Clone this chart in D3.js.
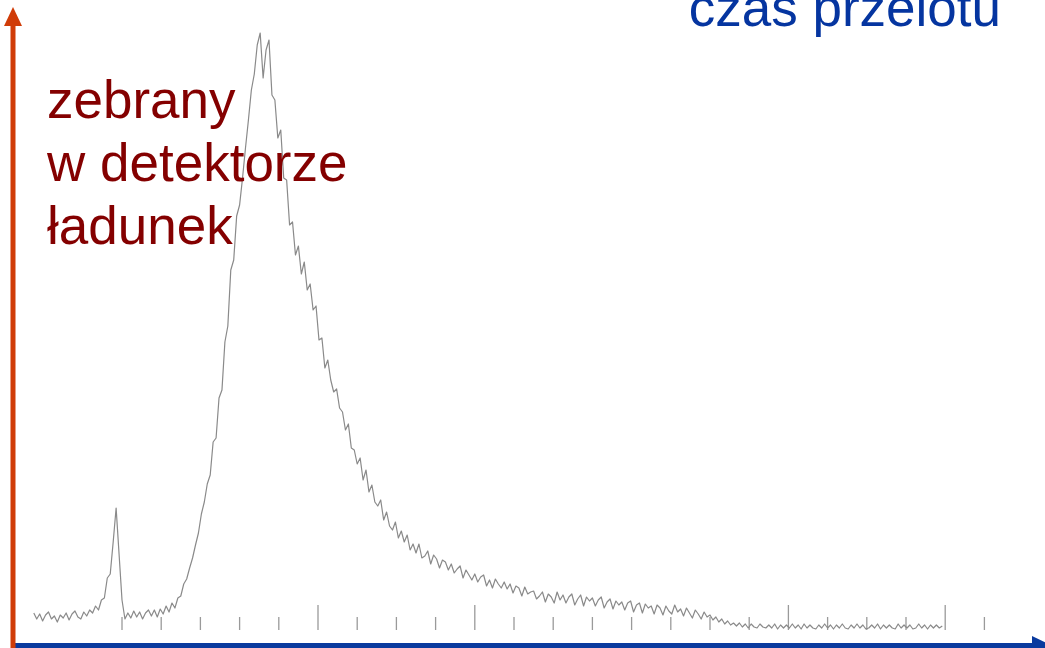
<!DOCTYPE html>
<html>
<head>
<meta charset="utf-8">
<script src="https://cdn.jsdelivr.net/npm/d3@7"></script>
<style>
  html, body { margin: 0; padding: 0; background: #fff; }
  svg { display: block; }
</style>
</head>
<body>
<svg id="chart" width="1045" height="648"></svg>
<script>
// Time-of-flight spectrum: collected charge per 0.75 ns sample.
const startTime = -2.5;   // ns, first sample
const sampleStep = 0.75;  // ns between samples

// Pedestal and the small prompt peak
const pedestal = [
  17, 11, 16, 9, 15, 18, 11, 14, 8, 15,
  12, 17, 10, 16, 19, 13, 11, 18, 14, 20,
  17, 24, 20, 30, 32, 52, 56, 88, 122, 76,
  30, 11, 17, 12, 19, 13, 18, 11, 17, 20,
  14, 20, 13, 21, 16, 24, 18, 27, 22, 32
];
// Rise and maximum of the main peak
const mainPeak = [
  34, 46, 51, 62, 72, 85, 97, 116, 128, 146,
  155, 188, 192, 232, 240, 288, 304, 360, 370, 414,
  425, 452, 482, 510, 540, 556, 585, 597, 552, 580,
  590, 535, 530, 492, 500, 452, 450, 405, 408, 375,
  384, 356, 368, 340, 346, 320, 324, 290, 292, 262
];
// Long decay tail
const decay = [
  270, 250, 238, 241, 222, 218, 200, 206, 182, 180,
  166, 172, 150, 160, 138, 145, 128, 124, 130, 110,
  118, 104, 100, 108, 92, 99, 88, 95, 80, 86,
  77, 86, 72, 74, 79, 66, 75, 71, 62, 70,
  68, 60, 66, 57, 61, 64, 52, 60, 55, 50,
  56, 48, 53, 55, 44, 50, 42, 51, 46, 42,
  48, 41, 46, 37, 44, 42, 34, 43, 36, 38,
  39, 31, 34, 38, 28, 36, 33, 27, 38, 30,
  35, 27, 33, 36, 25, 31, 35, 24, 33, 29,
  32, 24, 30, 33, 22, 28, 31, 21, 29, 25,
  28, 20, 27, 29, 18, 25, 27, 17, 26, 22,
  24, 16, 25, 22, 15, 24, 19, 16, 25, 18,
  21, 14, 22, 17, 12, 20, 16, 11, 18, 13,
  15, 10, 13, 8, 11, 6, 9, 5, 7, 4
];
// Flat background after the tail
const background = [
  7, 3, 6, 2, 6, 3, 2, 6, 3, 2,
  5, 2, 6, 1, 5, 2, 5, 2, 6, 2,
  5, 1, 6, 2, 5, 2, 1, 5, 2, 6,
  2, 5, 1, 5, 2, 6, 2, 1, 5, 2,
  6, 2, 5, 1, 2, 5, 2, 6, 1, 5,
  2, 5, 2, 1, 6, 2, 5, 2, 5, 1,
  2, 6, 2, 5, 1, 5, 2, 5, 2, 4
];

// Timing marks along the time axis (ns); the longer ones are in majorTicks
const tickTimes = [20, 30, 40, 50, 60, 70, 80, 90, 100, 110, 120, 130, 140,
                   150, 160, 170, 180, 190, 200, 210, 220, 230, 240];
const majorTicks = [70, 110, 190, 230];

const yLabelLines = ["zebrany", "w detektorze", "ładunek"];
const xLabel = "czas przelotu";

const charge = pedestal.concat(mainPeak, decay, background);
const series = charge.map((q, i) => ({ t: startTime + i * sampleStep, q }));

const svg = d3.select("#chart");

const x = d3.scaleLinear().domain([20, 240]).range([122, 984.4]);
const y = d3.scaleLinear().domain([0, 600]).range([630, 30]);

// Timing marks
svg.append("g")
  .selectAll("line")
  .data(tickTimes)
  .join("line")
  .attr("x1", d => x(d)).attr("x2", d => x(d))
  .attr("y1", y(0))
  .attr("y2", d => majorTicks.includes(d) ? y(25) : y(13))
  .attr("stroke", "#9a9a9a")
  .attr("stroke-width", 1.3);

// Spectrum trace
svg.append("path")
  .datum(series)
  .attr("fill", "none")
  .attr("stroke", "#8a8a8a")
  .attr("stroke-width", 1.2)
  .attr("stroke-linejoin", "round")
  .attr("d", d3.line().x(d => x(d.t)).y(d => y(d.q)));

// Time axis (blue arrow)
const blue = "#0a3a9e";
svg.append("line")
  .attr("x1", 15).attr("x2", 1034)
  .attr("y1", 645.5).attr("y2", 645.5)
  .attr("stroke", blue).attr("stroke-width", 5);
svg.append("path")
  .attr("d", "M1032,636 L1052,645.5 L1032,655 Z")
  .attr("fill", blue);

// Charge axis (orange arrow)
const orange = "#d03c08";
svg.append("line")
  .attr("x1", 13).attr("x2", 13)
  .attr("y1", 648).attr("y2", 24)
  .attr("stroke", orange).attr("stroke-width", 5);
svg.append("path")
  .attr("d", "M13,7 L4,26 L22,26 Z")
  .attr("fill", orange);

// Axis captions
const font = "'Liberation Sans', Arial, Helvetica, sans-serif";
svg.append("text")
  .attr("x", 47)
  .attr("font-family", font)
  .attr("font-size", 53)
  .attr("fill", "#840000")
  .selectAll("tspan")
  .data(yLabelLines)
  .join("tspan")
  .attr("x", 47)
  .attr("y", (d, i) => 118 + i * 63)
  .text(d => d);

svg.append("text")
  .attr("x", 1001)
  .attr("y", 26)
  .attr("text-anchor", "end")
  .attr("font-family", font)
  .attr("font-size", 53)
  .attr("fill", "#0535a0")
  .text(xLabel);
</script>
</body>
</html>
